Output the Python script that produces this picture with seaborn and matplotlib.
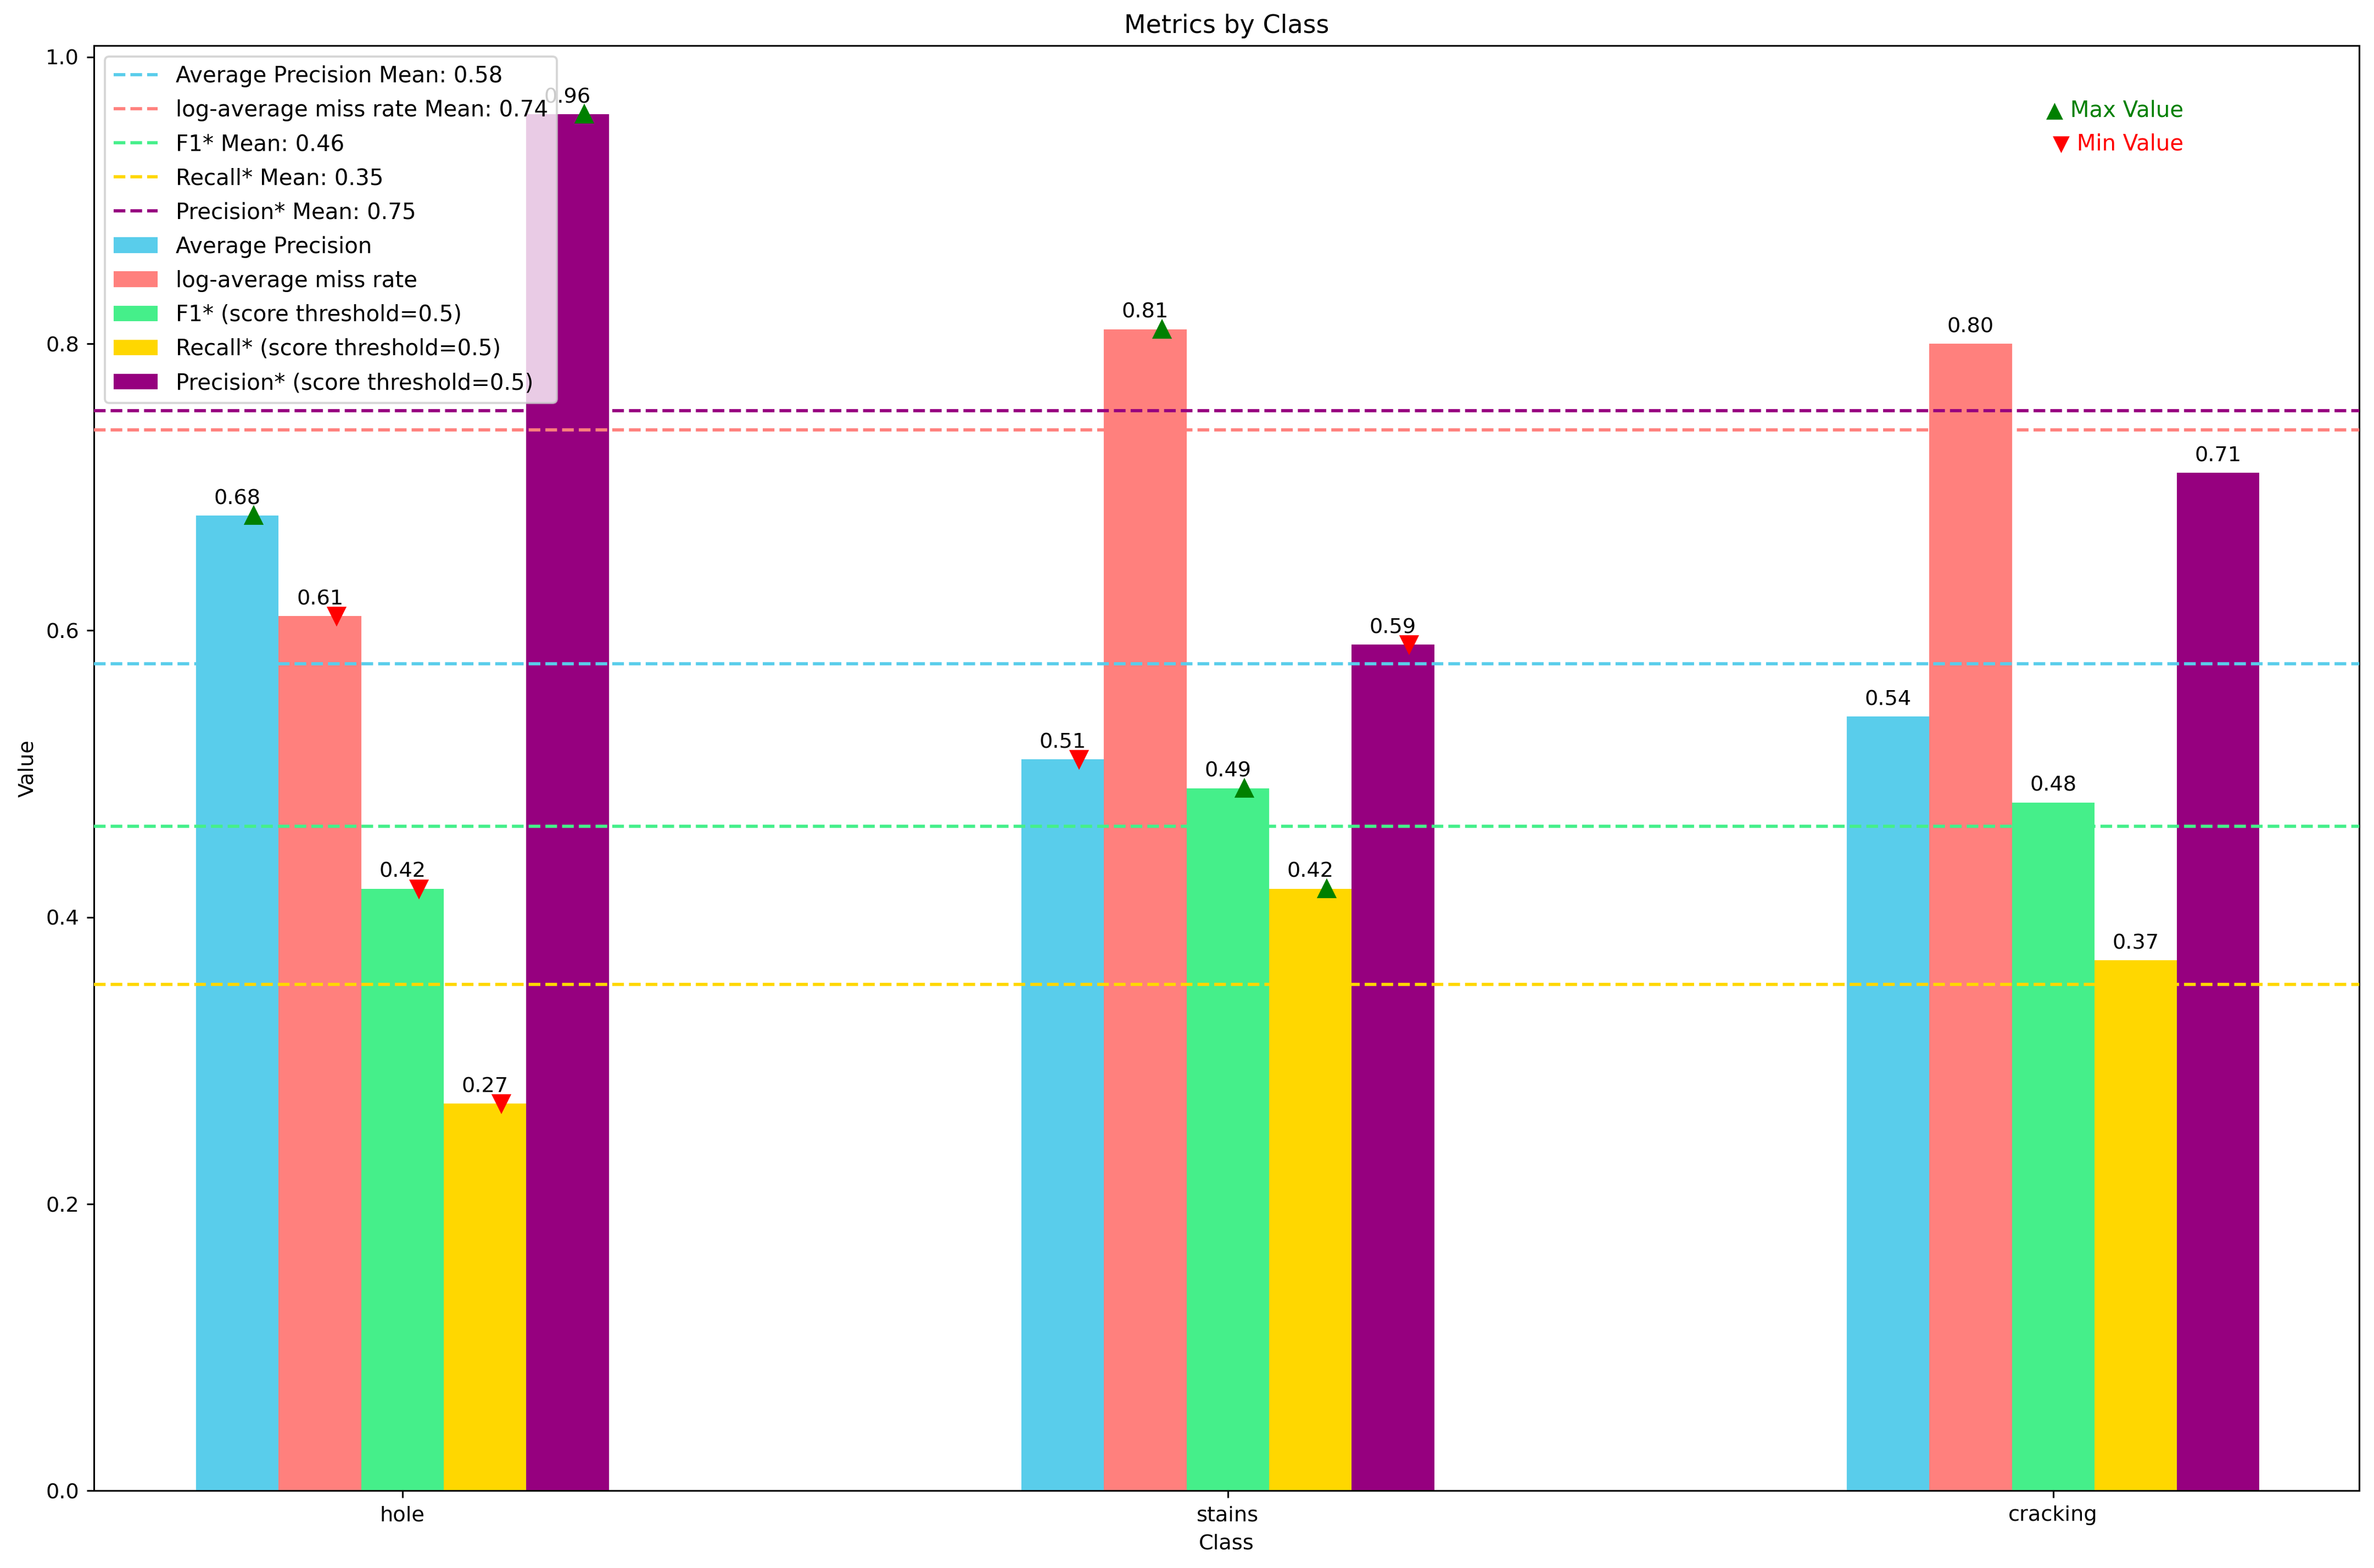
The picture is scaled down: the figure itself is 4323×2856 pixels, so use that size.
import matplotlib
matplotlib.use("Agg")
import matplotlib.pyplot as plt
from matplotlib.patches import Patch
import seaborn as sns
import pandas as pd
import numpy as np

classes = ["hole", "stains", "cracking"]
metrics = ["Average Precision", "log-average miss rate", "F1* (score threshold=0.5)",
           "Recall* (score threshold=0.5)", "Precision* (score threshold=0.5)"]
short_names = ["Average Precision", "log-average miss rate", "F1*", "Recall*", "Precision*"]
ap_vals = [0.68, 0.51, 0.54]
lamr_vals = [0.61, 0.81, 0.80]
f1_vals = [0.42, 0.49, 0.48]
recall_vals = [0.27, 0.42, 0.37]
precision_vals = [0.96, 0.59, 0.71]
colors = ["#59CDEB", "#FF807D", "#45EF8A", "#FFD700", "#96007F"]

series = [ap_vals, lamr_vals, f1_vals, recall_vals, precision_vals]
rows = []
for m, vals in zip(metrics, series):
    for c, v in zip(classes, vals):
        rows.append({"Class": c, "Metric": m, "Value": v})
df = pd.DataFrame(rows)

fig = plt.figure(figsize=(15.68, 10.357), dpi=275.765)
ax = fig.add_axes([0.0395, 0.0492, 0.9541, 0.9218])

# mean lines
line_handles = []
for name, vals, col in zip(short_names, series, colors):
    mval = float(np.mean(vals))
    h = ax.axhline(mval, color=col, linestyle="--", linewidth=1.5,
                   label=f"{name} Mean: {mval:.2f}", zorder=3)
    line_handles.append(h)

sns.barplot(data=df, x="Class", y="Value", hue="Metric", hue_order=metrics,
            order=classes, palette=colors, width=0.5, dodge=True, legend=False,
            saturation=1.0, ax=ax, zorder=2, errorbar=None)

# value labels and max/min markers
for cont, vals in zip(ax.containers, series):
    vmax, vmin = max(vals), min(vals)
    for bar, v in zip(cont, vals):
        xc = bar.get_x() + bar.get_width() / 2
        ax.text(xc, v + 0.005, f"{v:.2f}", ha="center", va="bottom", fontsize=10, zorder=5)
        if v == vmax:
            ax.plot(xc + 0.02, v, marker="^", color="green", markersize=8, zorder=6)
        elif v == vmin:
            ax.plot(xc + 0.02, v, marker="v", color="red", markersize=8, zorder=6)

ax.set_xlim(-0.374, 2.371)
ax.set_ylim(0, 1.008)
ax.set_title("Metrics by Class", fontsize=12)
ax.set_xlabel("Class", fontsize=10)
ax.set_ylabel("Value", fontsize=10)

bar_handles = [Patch(facecolor=c, label=m) for c, m in zip(colors, metrics)]
ax.legend(handles=line_handles + bar_handles, loc="upper left", fontsize=10.5,
          labelspacing=0.55)

ax.text(0.9225, 0.955, "\u25B2 Max Value", color="green", ha="right", va="center",
        fontsize=10.5, transform=ax.transAxes)
ax.text(0.9225, 0.932, "\u25BC Min Value", color="red", ha="right", va="center",
        fontsize=10.5, transform=ax.transAxes)

fig.savefig("out.png", dpi=275.765)
